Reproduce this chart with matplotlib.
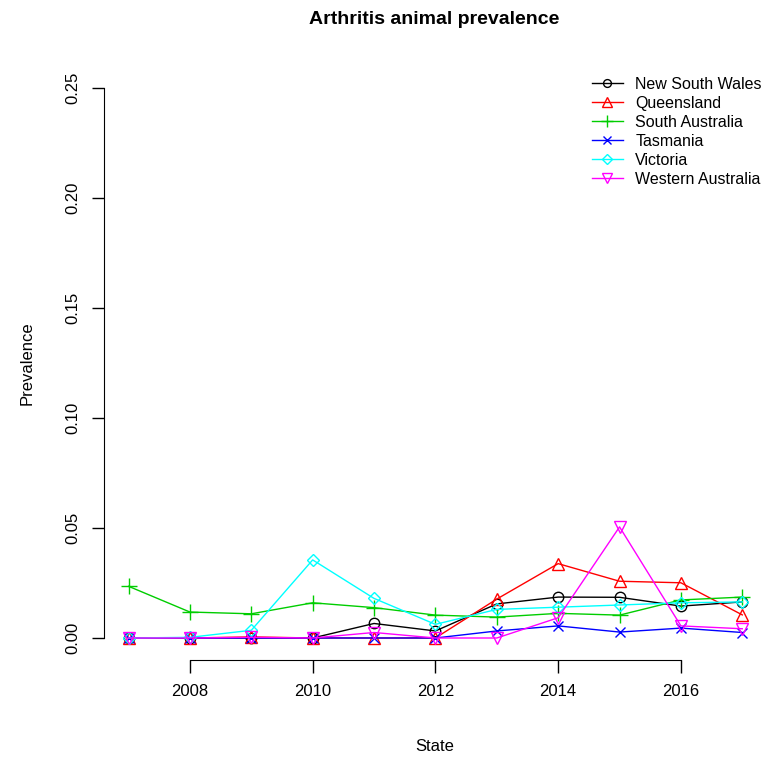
import numpy as np
import matplotlib
matplotlib.use("Agg")
import matplotlib.pyplot as plt

plt.rcParams['font.family'] = ['Liberation Sans', 'DejaVu Sans']

years = [2007, 2008, 2009, 2010, 2011, 2012, 2013, 2014, 2015, 2016, 2017]
nsw = [0.0, 0.0, 0.0, 0.0, 0.0066, 0.0032, 0.0155, 0.0186, 0.0185, 0.0145, 0.0164]
qld = [0.0, 0.0, 0.0005, 0.0, 0.0, 0.0, 0.0177, 0.0338, 0.0258, 0.0251, 0.0105]
sa = [0.0235, 0.0118, 0.011, 0.016, 0.0138, 0.0104, 0.0095, 0.0112, 0.0104, 0.0173, 0.0186]
tas = [0.0, 0.0, 0.0, 0.0, 0.0, 0.0, 0.0032, 0.0055, 0.0027, 0.0045, 0.0025]
vic = [0.0, 0.0003, 0.0035, 0.0355, 0.018, 0.0062, 0.013, 0.014, 0.015, 0.016, 0.0164]
wa = [0.0, 0.0, 0.0003, 0.0, 0.0025, 0.0, 0.0, 0.0092, 0.0505, 0.0055, 0.0042]

names = ["New South Wales", "Queensland", "South Australia", "Tasmania",
         "Victoria", "Western Australia"]
series = [nsw, qld, sa, tas, vic, wa]
colors = ["black", "red", "#00CD00", "blue", "cyan", "magenta"]
markers = ["o", "^", "+", "x", "D", "v"]
msizes = [7.5, 9, 11, 7.5, 6.5, 9]

fig = plt.figure(figsize=(7.65, 7.57), dpi=100)
ax = fig.add_axes([104/765, 97/757, 661/765, 594/757])

for vals, name, c, m, ms in zip(series, names, colors, markers, msizes):
    ax.plot(years, vals, color=c, marker=m, markersize=ms, markerfacecolor="none",
            markeredgecolor=c, markeredgewidth=1.0, linewidth=1.0, label=name)

ax.set_xlim(2006.6, 2017.37)
ax.set_ylim(-0.01, 0.26)
ax.set_xticks([2008, 2010, 2012, 2014, 2016])
ax.set_yticks([0.0, 0.05, 0.10, 0.15, 0.20, 0.25])
ax.set_yticklabels(["0.00", "0.05", "0.10", "0.15", "0.20", "0.25"], rotation=90, va="center")

for s in ["top", "right"]:
    ax.spines[s].set_visible(False)
ax.spines["left"].set_bounds(0, 0.25)
ax.spines["bottom"].set_bounds(2008, 2016)
ax.tick_params(direction="out", length=9, width=1, labelsize=12, pad=8)

ax.set_xlabel("State", fontsize=12, labelpad=29)
ax.set_ylabel("Prevalence", fontsize=12, labelpad=22)
ax.set_title("Arthritis animal prevalence", fontsize=14, fontweight="bold", pad=30)

leg = ax.legend(loc="upper right", frameon=False, fontsize=11.5, handlelength=1.9,
                handletextpad=0.8, markerscale=0.75, labelspacing=0.25,
                borderaxespad=0.0, bbox_to_anchor=(1.005, 0.993))

fig.savefig("out.png", dpi=100)
